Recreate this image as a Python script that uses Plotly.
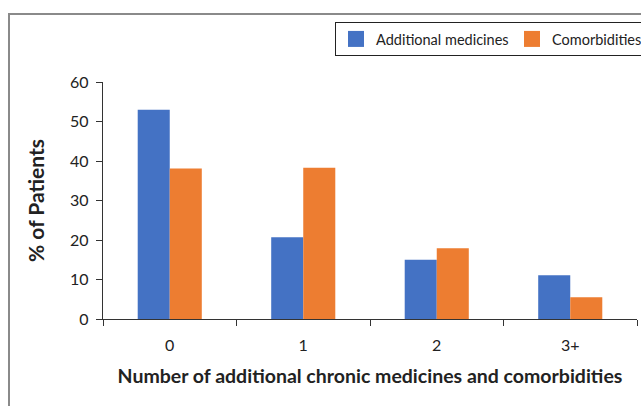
import plotly.graph_objects as go

categories = ["0", "1", "2", "3+"]
additional_medicines = [53.0, 20.7, 15.0, 11.1]
comorbidities = [38.1, 38.3, 17.9, 5.5]
series_names = ["Additional medicines", "Comorbidities"]
colors = ["#4472C4", "#ED7D31"]

FONT = "Lato"

fig = go.Figure()
for vals, name, col in zip([additional_medicines, comorbidities], series_names, colors):
    fig.add_trace(go.Bar(x=categories, y=vals, name=name, showlegend=False,
                         marker=dict(color=col, line=dict(width=0))))
# legend-only entries with larger square swatches
for name, col in zip(series_names, colors):
    fig.add_trace(go.Scatter(x=[None], y=[None], mode="markers", name=name,
                             marker=dict(symbol="square", size=16, color=col)))

W, H = 641, 406
L, R, T, B = 103, 4, 82, 406 - 319
pw, ph = W - L - R, H - T - B

def px_x(x):
    return (x - L) / pw

def px_y(y):
    return 1 - (y - T) / ph

fig.update_layout(
    width=W, height=H,
    margin=dict(l=L, r=R, t=T, b=B, autoexpand=False),
    paper_bgcolor="white", plot_bgcolor="white",
    barmode="group", bargap=0.52, bargroupgap=0,
    font=dict(family=FONT, color="#222"),
    showlegend=True,
    legend=dict(orientation="h", x=px_x(335), y=px_y(22), xanchor="left", yanchor="top",
                bordercolor="#222", borderwidth=1, font=dict(size=14.5, family=FONT),
                bgcolor="white", traceorder="normal", entrywidth=131),
    xaxis=dict(showline=True, linecolor="#333", linewidth=1.3, automargin=False,
               ticks="outside", tickson="boundaries", ticklen=6, tickcolor="#333",
               ticklabelstandoff=12,
               tickfont=dict(size=16, family=FONT, color="#222"),
               title=dict(text="<b>Number of additional chronic medicines and comorbidities</b>",
                          font=dict(size=19.5, family=FONT, color="#222"), standoff=16),
               showgrid=False),
    yaxis=dict(range=[0, 60], dtick=10, showline=True, linecolor="#333", linewidth=1.3,
               automargin=False, ticklabelstandoff=4,
               ticks="outside", ticklen=6, tickcolor="#333", showgrid=False, zeroline=False,
               tickfont=dict(size=16, family=FONT, color="#222"),
               title=dict(text="<b>% of Patients</b>", font=dict(size=21, family=FONT, color="#222"),
                          standoff=19)),
    shapes=[dict(type="rect", xref="paper", yref="paper",
                 x0=px_x(9), x1=px_x(700), y0=px_y(460), y1=px_y(14),
                 line=dict(color="#8a8a8a", width=2), fillcolor="rgba(0,0,0,0)", layer="below")],
)

fig.write_html("out.html", config={"displayModeBar": False},
               post_script="document.body.style.margin='0';document.body.style.overflow='hidden';")
